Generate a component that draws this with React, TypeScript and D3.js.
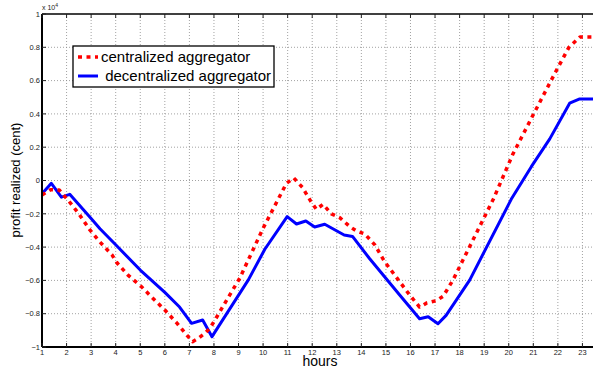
import React from 'react';
import * as d3 from 'd3';

// Profit realized over the day, in cents (axis shown in units of 10^4)
const centralizedHours = [1, 1.35, 1.7, 2.1, 2.5, 2.95, 3.35, 3.85, 4.05, 4.5, 5.05, 5.45, 6, 6.5, 6.95, 7.13, 7.36, 7.63, 7.83, 8.04, 8.72, 9.05, 10, 10.95, 11.25, 11.6, 11.95, 12.17, 12.44, 12.78, 13.12, 13.53, 13.8, 14.14, 14.55, 14.95, 15.56, 15.97, 16.37, 16.67, 17.05, 17.33, 17.73, 18.5, 19.37, 20.17, 20.99, 21.9, 22.45, 22.9, 24];
const centralizedProfit = [-870, -550, -570, -1250, -2000, -2970, -3680, -4470, -4940, -5680, -6380, -6980, -7780, -8580, -9380, -9680, -9480, -9180, -8880, -8380, -6680, -5870, -2870, -170, 150, -410, -1270, -1730, -1430, -2000, -2230, -2770, -3030, -3210, -3870, -4880, -6080, -6880, -7600, -7350, -7220, -6950, -5980, -3700, -1130, 1590, 3930, 6500, 8000, 8620, 8620];

const decentralizedHours = [1, 1.38, 1.79, 2.13, 3, 3.36, 4, 5, 6, 6.6, 7.09, 7.54, 7.92, 9.4, 10.07, 10.98, 11.36, 11.74, 12.1, 12.51, 13.3, 13.64, 14.34, 15.56, 16.37, 16.72, 17.12, 17.45, 18.41, 20.1, 20.92, 21.67, 22.48, 22.89, 24];
const decentralizedProfit = [-800, -170, -1000, -830, -2280, -2900, -3860, -5380, -6720, -7600, -8580, -8380, -9380, -5970, -4130, -2170, -2610, -2430, -2790, -2630, -3270, -3360, -4700, -6880, -8300, -8180, -8600, -8100, -5980, -1130, 830, 2500, 4640, 4900, 4900];

const hourTicks = d3.range(1, 24);
const profitTicks = d3.range(-10000, 10001, 2000);
const seriesNames = ['centralized aggregator', ' decentralized aggregator'];

const W = 593;
const H = 370;
const left = 42;
const top = 14;
const bottom = 347;
const right = 607;
const font = "'Liberation Sans', Arial, Helvetica, sans-serif";

export default function App() {
  const x = d3.scaleLinear().domain([1, 24]).range([left, right]);
  const y = d3.scaleLinear().domain([-10000, 10000]).range([bottom, top]);

  const line = d3
    .line<[number, number]>()
    .x((d) => x(d[0]))
    .y((d) => y(d[1]));

  const central = centralizedHours.map((h, i) => [h, centralizedProfit[i]] as [number, number]);
  const decentral = decentralizedHours.map((h, i) => [h, decentralizedProfit[i]] as [number, number]);

  const fmt = (v: number) => {
    const s = d3.format('.1~f')(v / 10000);
    return s.replace('-', '\u2212');
  };

  return (
    <svg
      width={W}
      height={H}
      style={{ position: 'absolute', left: 0, top: 0, background: '#fff', display: 'block' }}
      fontFamily={font}
    >
      <defs>
        <clipPath id="plot">
          <rect x={left} y={top} width={right - left} height={bottom - top} />
        </clipPath>
      </defs>
      <rect x={0} y={0} width={W} height={H} fill="#fff" />

      {/* grid */}
      <g stroke="#8a8a8a" strokeWidth={0.8} strokeDasharray="1,2">
        {hourTicks.slice(1).map((t) => (
          <line key={'gx' + t} x1={x(t)} x2={x(t)} y1={top} y2={bottom} />
        ))}
        {profitTicks.slice(1, -1).map((t) => (
          <line key={'gy' + t} x1={left} x2={right} y1={y(t)} y2={y(t)} />
        ))}
      </g>

      {/* series */}
      <g clipPath="url(#plot)" fill="none" strokeLinejoin="round">
        <path d={line(decentral) || ''} stroke="#0000ff" strokeWidth={3} />
        <path d={line(central) || ''} stroke="#ff0000" strokeWidth={3.5} strokeDasharray="4,4.5" />
      </g>

      {/* axes box */}
      <g stroke="#000" fill="none">
        <line x1={left} x2={right} y1={top} y2={top} strokeWidth={1.3} />
        <line x1={left} x2={right} y1={bottom} y2={bottom} strokeWidth={2} />
        <line x1={left} x2={left} y1={top} y2={bottom} strokeWidth={2} />
      </g>

      {/* ticks */}
      <g stroke="#222" strokeWidth={1}>
        {hourTicks.map((t) => (
          <g key={'tx' + t}>
            <line x1={x(t)} x2={x(t)} y1={bottom} y2={bottom - 4} />
            <line x1={x(t)} x2={x(t)} y1={top} y2={top + 4} />
          </g>
        ))}
        {profitTicks.map((t) => (
          <line key={'ty' + t} x1={left} x2={left + 4} y1={y(t)} y2={y(t)} />
        ))}
      </g>

      {/* tick labels */}
      <g fontSize={7.5} fill="#222">
        {hourTicks.map((t) => (
          <text key={'lx' + t} x={x(t)} y={bottom + 7.5} textAnchor="middle">
            {t}
          </text>
        ))}
        {profitTicks.map((t) => (
          <text key={'ly' + t} x={left - 2} y={y(t) + 2.7} textAnchor="end">
            {fmt(t)}
          </text>
        ))}
      </g>

      {/* exponent */}
      <text x={left} y={10} fontSize={7} fill="#222">
        x 10
        <tspan fontSize={5} dy={-3}>
          4
        </tspan>
      </text>

      {/* axis titles */}
      <text x={320} y={366} fontSize={14} textAnchor="middle" fill="#000">
        hours
      </text>
      <text
        transform={`translate(20, 180) rotate(-90)`}
        fontSize={13}
        textAnchor="middle"
        fill="#000"
      >
        profit realized (cent)
      </text>

      {/* legend */}
      <g>
        <rect x={73} y={46} width={201} height={41} fill="#fff" stroke="#000" strokeWidth={1.3} />
        <line x1={78} x2={98} y1={57} y2={57} stroke="#ff0000" strokeWidth={3.5} strokeDasharray="4,4.5" />
        <line x1={78} x2={98} y1={76} y2={76} stroke="#0000ff" strokeWidth={3} />
        <text x={101} y={62} fontSize={15} fill="#000">
          {seriesNames[0]}
        </text>
        <text x={101} y={81} fontSize={15} fill="#000" style={{ whiteSpace: 'pre' }}>
          {seriesNames[1]}
        </text>
      </g>
    </svg>
  );
}
